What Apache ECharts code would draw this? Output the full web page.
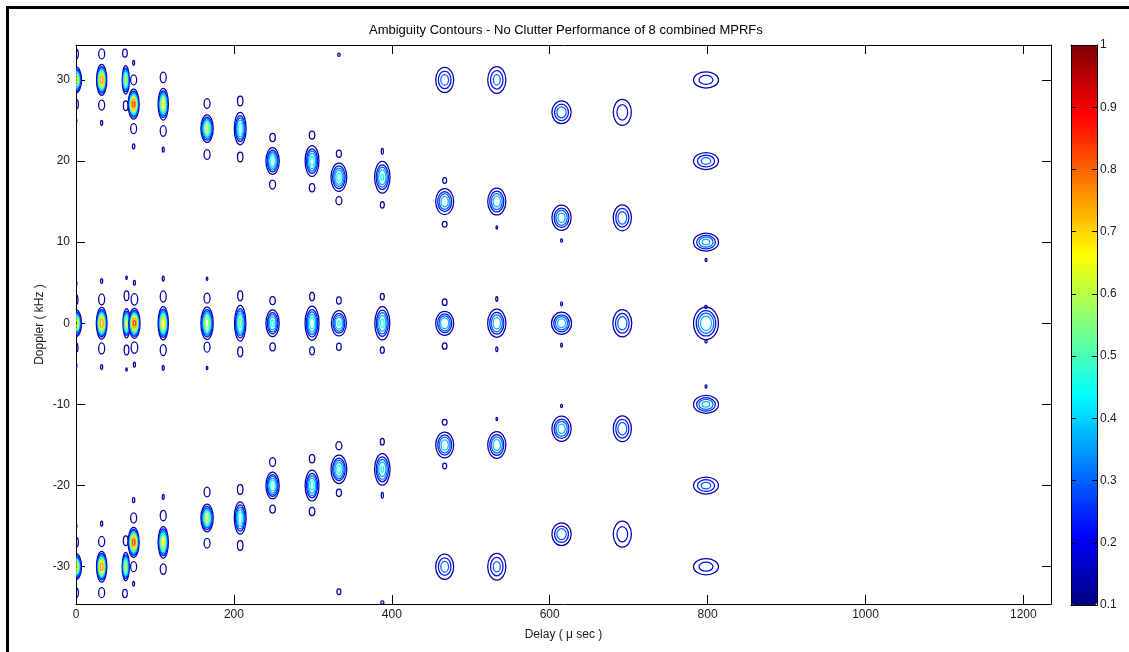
<!DOCTYPE html>
<html>
<head>
<meta charset="utf-8">
<script src="https://cdn.jsdelivr.net/npm/echarts@6/dist/echarts.min.js"></script>
<style>
html,body{margin:0;padding:0;background:#fff;}
#chart{width:1129px;height:652px;}
</style>
</head>
<body>
<div id="chart"></div>
<script>
// ---------------- DATA ----------------
const titleText = 'Ambiguity Contours - No Clutter Performance of 8 combined MPRFs';
const xTicks = [0, 200, 400, 600, 800, 1000, 1200];
const yTicks = [-30, -20, -10, 0, 10, 20, 30];
const colorbarTicks = [0.1, 0.2, 0.3, 0.4, 0.5, 0.6, 0.7, 0.8, 0.9, 1];
const contourLevels = [0.13, 0.225, 0.3, 0.375, 0.45, 0.525, 0.6, 0.675, 0.75, 0.825, 0.9];
const sidelobePeak = 0.14;

// main lobes: [delay µs, doppler kHz, peak, delay half-width µs, doppler half-width kHz]
const lobesUpper = [
  [0, 30, 0.70, 7, 1.6],
  [32.5, 30, 0.80, 6.5, 1.9],
  [63, 30, 0.62, 4.5, 1.75],
  [73, 27, 0.85, 7, 1.85],
  [110.5, 27, 0.68, 6.5, 1.95],
  [166, 24, 0.62, 7.8, 1.7],
  [208, 24, 0.50, 7.5, 2.0],
  [249, 20, 0.52, 8.4, 1.65],
  [299, 20, 0.48, 8.8, 1.9],
  [333, 18, 0.48, 10, 1.75],
  [388, 18, 0.46, 9.8, 1.95],
  [467, 30, 0.34, 11.4, 1.55],
  [533, 30, 0.33, 11.5, 1.65],
  [467, 15, 0.43, 11.4, 1.6],
  [533, 15, 0.43, 11.5, 1.65],
  [615, 26, 0.36, 12.2, 1.4],
  [692, 26, 0.28, 11.5, 1.6],
  [615, 13, 0.42, 12.2, 1.55],
  [692, 13, 0.36, 11.5, 1.6],
  [798, 30, 0.27, 15.8, 1.0],
  [798, 20, 0.33, 15.8, 1.05],
  [798, 10, 0.40, 15.8, 1.1]
];
const lobesZero = [
  [0, 0, 0.72, 7, 1.65],
  [32.5, 0, 0.80, 6.8, 1.95],
  [64, 0, 0.65, 4.5, 1.8],
  [74, 0, 0.85, 7.2, 1.85],
  [110.5, 0, 0.72, 6.5, 2.05],
  [166, 0, 0.65, 7.8, 2.0],
  [208, 0, 0.55, 7.2, 2.2],
  [249, 0, 0.47, 8.4, 1.65],
  [299, 0, 0.50, 8.9, 2.1],
  [333, 0, 0.46, 9.5, 1.56],
  [388, 0, 0.47, 9.5, 2.05],
  [467, 0, 0.45, 11.4, 1.48],
  [533, 0, 0.43, 11.6, 1.73],
  [615, 0, 0.43, 12.7, 1.36],
  [692, 0, 0.36, 12, 1.69],
  [798, 0, 0.45, 15.8, 2.0]
];
const lobesLower = [
  [0, -30, 0.70, 7, 1.6],
  [32.5, -30, 0.80, 6.5, 1.9],
  [63, -30, 0.62, 4.5, 1.75],
  [73, -27, 0.85, 7, 1.85],
  [110.5, -27, 0.68, 6.5, 1.95],
  [166, -24, 0.62, 7.8, 1.7],
  [208, -24, 0.50, 7.5, 2.0],
  [249, -20, 0.52, 8.4, 1.65],
  [299, -20, 0.48, 8.8, 1.9],
  [333, -18, 0.48, 10, 1.75],
  [388, -18, 0.46, 9.8, 1.95],
  [467, -30, 0.34, 11.4, 1.55],
  [533, -30, 0.33, 11.5, 1.65],
  [467, -15, 0.43, 11.4, 1.6],
  [533, -15, 0.43, 11.5, 1.65],
  [615, -26, 0.36, 12.2, 1.4],
  [692, -26, 0.28, 11.5, 1.6],
  [615, -13, 0.42, 12.2, 1.55],
  [692, -13, 0.36, 11.5, 1.6],
  [798, -30, 0.27, 15.8, 1.0],
  [798, -20, 0.33, 15.8, 1.05],
  [798, -10, 0.40, 15.8, 1.1]
];

// side lobes (single lowest contour): [delay µs, doppler kHz, delay half-width µs, doppler half-width kHz]
const sidelobesUpper = [
  [0, 33.2, 3, 0.6], [0, 27.0, 3, 0.6], [0, 25.0, 1.2, 0.25],
  [32.5, 33.2, 3.8, 0.62], [32.5, 26.9, 3.8, 0.62], [32.5, 24.7, 1.3, 0.3],
  [62, 33.3, 3, 0.5], [63, 26.8, 3, 0.6],
  [73, 32.1, 1.2, 0.3], [73, 30.0, 3.8, 0.62], [73, 24.0, 3.8, 0.62], [73, 21.8, 1.5, 0.3],
  [110.5, 30.3, 3.8, 0.65], [110.5, 23.7, 3.8, 0.65], [110.5, 21.4, 1.2, 0.3],
  [166, 27.1, 3.8, 0.6], [166, 20.8, 3.8, 0.6],
  [208, 27.4, 3.5, 0.6], [208, 20.5, 3.5, 0.6],
  [249, 22.9, 3.5, 0.5], [249, 17.1, 3.8, 0.55],
  [299, 23.2, 3.5, 0.5], [299, 16.7, 3.5, 0.5],
  [333, 33.1, 1.5, 0.2], [333, 20.9, 3.2, 0.45], [333, 15.1, 3.8, 0.5],
  [388, 21.2, 1.3, 0.35], [388, 14.6, 2.5, 0.4],
  [467, 17.6, 2.5, 0.35], [467, 12.2, 3, 0.35],
  [533, 11.8, 1, 0.2],
  [615, 10.2, 1.2, 0.2],
  [798, 7.8, 1.2, 0.2]
];
const sidelobesZero = [
  [0, 4.9, 1.2, 0.3], [0, 2.9, 2.5, 0.6], [0, -3.0, 2.5, 0.6], [0, -5.2, 1.2, 0.3],
  [32.5, 5.2, 1.3, 0.3], [32.5, 2.95, 3.8, 0.68], [32.5, -3.1, 3.8, 0.68], [32.5, -5.4, 1.3, 0.3],
  [64, 5.6, 1, 0.2], [64, 3.4, 3, 0.6], [64, -3.3, 3, 0.6], [64, -5.7, 1, 0.2],
  [74, 5.0, 1.3, 0.3], [74, 2.95, 4.2, 0.7], [74, -3.0, 4.2, 0.7], [74, -5.1, 1.3, 0.3],
  [110.5, 5.5, 1.2, 0.3], [110.5, 3.3, 3.8, 0.68], [110.5, -3.3, 3.8, 0.68], [110.5, -5.5, 1.2, 0.3],
  [166, 5.5, 1, 0.2], [166, 3.1, 3.8, 0.62], [166, -2.95, 3.8, 0.62], [166, -5.5, 1, 0.2],
  [208, 3.4, 3.2, 0.6], [208, -3.5, 3.2, 0.6],
  [249, 2.8, 3.5, 0.5], [249, -2.9, 3.5, 0.5],
  [299, 3.3, 3, 0.5], [299, -3.4, 3, 0.5],
  [333, 2.8, 3, 0.45], [333, -2.9, 3, 0.45],
  [388, 3.3, 2.5, 0.4], [388, -3.3, 2.5, 0.4],
  [467, 2.6, 3, 0.4], [467, -2.8, 3, 0.4],
  [533, 3.0, 1.3, 0.3], [533, -3.2, 1.3, 0.3],
  [615, 2.4, 1.2, 0.25], [615, -2.7, 1.2, 0.25],
  [798, 2.0, 1.5, 0.2], [798, -2.2, 1.5, 0.2]
];
const sidelobesLower = [
  [0, -33.2, 3, 0.6], [0, -27.0, 3, 0.6], [0, -25.0, 1.2, 0.25],
  [32.5, -33.2, 3.8, 0.62], [32.5, -26.9, 3.8, 0.62], [32.5, -24.7, 1.3, 0.3],
  [62, -33.3, 3, 0.5], [63, -26.8, 3, 0.6],
  [73, -32.1, 1.2, 0.3], [73, -30.0, 3.8, 0.62], [73, -24.0, 3.8, 0.62], [73, -21.8, 1.5, 0.3],
  [110.5, -30.3, 3.8, 0.65], [110.5, -23.7, 3.8, 0.65], [110.5, -21.4, 1.2, 0.3],
  [166, -27.1, 3.8, 0.6], [166, -20.8, 3.8, 0.6],
  [208, -27.4, 3.5, 0.6], [208, -20.5, 3.5, 0.6],
  [249, -22.9, 3.5, 0.5], [249, -17.1, 3.8, 0.55],
  [299, -23.2, 3.5, 0.5], [299, -16.7, 3.5, 0.5],
  [333, -33.1, 2.5, 0.35], [333, -20.9, 3.2, 0.45], [333, -15.1, 3.8, 0.5],
  [388, -21.2, 1.3, 0.35], [388, -14.6, 2.5, 0.4], [388, -34.4, 2.0, 0.2],
  [467, -17.6, 2.5, 0.35], [467, -12.2, 3, 0.35],
  [533, -11.8, 1, 0.2],
  [615, -10.2, 1.2, 0.2],
  [798, -7.8, 1.2, 0.2]
];

// ---------------- RENDER ----------------
const FONT = 'Liberation Sans, Arial, Helvetica, sans-serif';
function jet(v) {
  const t = (v - 0.1) / 0.9;
  const f = x => Math.max(0, Math.min(1, x));
  const r = f(1.5 - Math.abs(4 * t - 3));
  const g = f(1.5 - Math.abs(4 * t - 2));
  const b = f(1.5 - Math.abs(4 * t - 1));
  return 'rgb(' + Math.round(r * 255) + ',' + Math.round(g * 255) + ',' + Math.round(b * 255) + ')';
}
const jetStops = ['#00007F', '#0000FF', '#007FFF', '#00FFFF', '#7FFF7F', '#FFFF00', '#FF7F00', '#FF0000', '#7F0000'];

const lobeData = [].concat(lobesUpper, lobesZero, lobesLower);
const sideData = [].concat(sidelobesUpper, sidelobesZero, sidelobesLower)
  .map(d => [d[0], d[1], sidelobePeak, d[2], d[3]]);
const allData = sideData.concat(lobeData);

function renderItem(params, api) {
  const x = api.value(0), y = api.value(1), p = api.value(2);
  const dx = api.value(3), dy = api.value(4);
  const c = api.coord([x, y]);
  const sz = api.size([dx, dy]);
  const base = Math.log(p / contourLevels[0]);
  const children = [];
  for (let i = 0; i < contourLevels.length; i++) {
    const L = contourLevels[i];
    if (L >= p) break;
    const s = Math.pow(Math.log(p / L) / base, 0.42);
    children.push({
      type: 'ellipse',
      shape: { cx: c[0], cy: c[1], rx: Math.max(0.6, sz[0] * s), ry: Math.max(0.8, sz[1] * s) },
      style: { fill: null, stroke: jet(L), lineWidth: 1.25 }
    });
  }
  const cs = params.coordSys;
  return {
    type: 'group',
    clipPath: { type: 'rect', shape: { x: cs.x, y: cs.y, width: cs.width, height: cs.height } },
    children: children
  };
}

const axisTxt = { color: '#1a1a1a', fontSize: 12, fontFamily: FONT };
const chart = echarts.init(document.getElementById('chart'), null, { renderer: 'canvas' });
chart.setOption({
  backgroundColor: '#fff',
  animation: false,
  title: {
    text: titleText, left: 369, top: 24, padding: 0,
    textStyle: { fontSize: 13, fontWeight: 'normal', color: '#000', fontFamily: FONT }
  },
  graphic: [{
    type: 'rect', shape: { x: 7.5, y: 7.5, width: 1300, height: 800 },
    style: { fill: null, stroke: '#000', lineWidth: 3 }, silent: true, z: 100
  }],
  grid: [
    { left: 76, top: 45, width: 975, height: 559, show: false },
    { left: 1071, top: 45, width: 26, height: 560, show: false }
  ],
  xAxis: [
    {
      gridIndex: 0, type: 'value', min: 0, max: 1235, position: 'bottom',
      axisLine: { show: true, onZero: false, lineStyle: { color: '#000', width: 1 } },
      axisTick: { show: true, inside: true, length: 9, customValues: xTicks, lineStyle: { color: '#000' } },
      axisLabel: { show: true, customValues: xTicks, margin: 5, ...axisTxt, formatter: v => String(v) },
      splitLine: { show: false },
      name: 'Delay ( μ sec )', nameLocation: 'middle', nameGap: 25,
      nameTextStyle: { ...axisTxt }
    },
    {
      gridIndex: 0, type: 'value', min: 0, max: 1235, position: 'top',
      axisLine: { show: true, onZero: false, lineStyle: { color: '#000', width: 1 } },
      axisTick: { show: true, inside: true, length: 9, customValues: xTicks, lineStyle: { color: '#000' } },
      axisLabel: { show: false }, splitLine: { show: false }
    },
    {
      gridIndex: 1, type: 'value', min: 0, max: 1, position: 'bottom', z: 10,
      axisLine: { show: true, onZero: false, lineStyle: { color: '#000' } },
      axisTick: { show: false }, axisLabel: { show: false }, splitLine: { show: false }
    },
    {
      gridIndex: 1, type: 'value', min: 0, max: 1, position: 'top', z: 10,
      axisLine: { show: true, onZero: false, lineStyle: { color: '#000' } },
      axisTick: { show: false }, axisLabel: { show: false }, splitLine: { show: false }
    }
  ],
  yAxis: [
    {
      gridIndex: 0, type: 'value', min: -34.6, max: 34.3, position: 'left',
      axisLine: { show: true, onZero: false, lineStyle: { color: '#000', width: 1 } },
      axisTick: { show: true, inside: true, length: 9, customValues: yTicks, lineStyle: { color: '#000' } },
      axisLabel: { show: true, customValues: yTicks, margin: 6, ...axisTxt },
      splitLine: { show: false },
      name: 'Doppler ( kHz )', nameLocation: 'middle', nameGap: 30, nameMoveOverlap: false,
      nameTextStyle: { ...axisTxt }
    },
    {
      gridIndex: 0, type: 'value', min: -34.6, max: 34.3, position: 'right',
      axisLine: { show: true, onZero: false, lineStyle: { color: '#000', width: 1 } },
      axisTick: { show: true, inside: true, length: 9, customValues: yTicks, lineStyle: { color: '#000' } },
      axisLabel: { show: false }, splitLine: { show: false }
    },
    {
      gridIndex: 1, type: 'value', min: 0.1, max: 1, position: 'right', z: 10,
      axisLine: { show: true, onZero: false, lineStyle: { color: '#000' } },
      axisTick: { show: true, inside: true, length: 5, customValues: colorbarTicks, lineStyle: { color: '#000' } },
      axisLabel: { show: true, customValues: colorbarTicks, margin: 3, ...axisTxt,
        formatter: v => String(Math.round(v * 10) / 10) },
      splitLine: { show: false }
    },
    {
      gridIndex: 1, type: 'value', min: 0.1, max: 1, position: 'left', z: 10,
      axisLine: { show: true, onZero: false, lineStyle: { color: '#000' } },
      axisTick: { show: true, inside: true, length: 5, customValues: colorbarTicks, lineStyle: { color: '#000' } },
      axisLabel: { show: false }, splitLine: { show: false }
    }
  ],
  visualMap: {
    type: 'continuous', min: 0.1, max: 1, orient: 'vertical',
    left: 1071, top: 45, itemWidth: 26, itemHeight: 560, padding: 0,
    calculable: false, hoverLink: false, seriesIndex: 0, dimension: 2, z: 1,
    inRange: { color: jetStops }
  },
  series: [{
    type: 'custom',
    xAxisIndex: 0, yAxisIndex: 0,
    renderItem: renderItem,
    encode: { x: 0, y: 1 },
    data: allData,
    silent: true
  }]
});
</script>
</body>
</html>
